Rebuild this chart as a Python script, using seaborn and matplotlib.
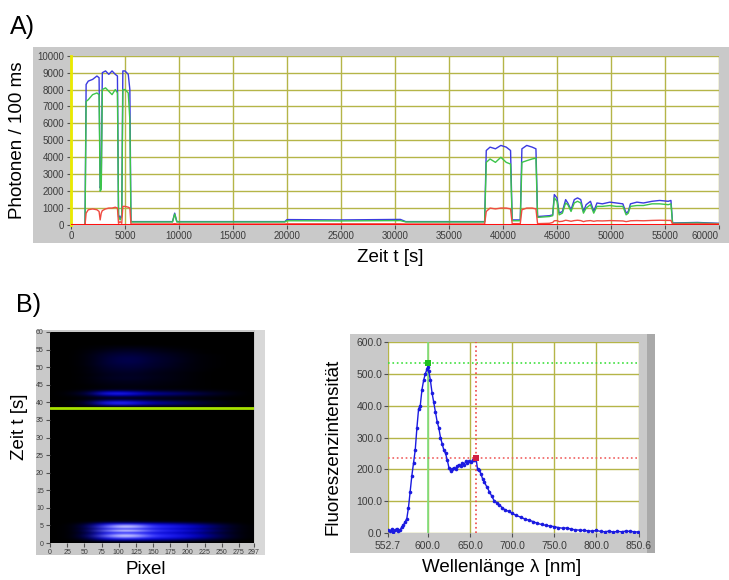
import matplotlib
matplotlib.use("Agg")
import matplotlib.pyplot as plt
import numpy as np
import pandas as pd
import seaborn as sns
from matplotlib.colors import LinearSegmentedColormap
from matplotlib.patches import Rectangle

W, H = 729, 580

# --- A) photon counts per 100 ms ---
time_ms = [0, 1300, 1400, 1600, 2000, 2400, 2600, 2700, 2800, 2900, 3200, 3500, 3800, 4100,
           4300, 4400, 4550, 4700, 4800, 5000, 5300, 5450, 5550, 7000, 9400, 9600, 9800,
           12000, 15000, 19800, 20000, 25000, 30500, 31000, 35000, 38300, 38450, 38800,
           39300, 39800, 40300, 40700, 40850, 41600, 41750, 42200, 42700, 43050, 43200,
           44300, 44600, 44750, 45000, 45200, 45500, 45800, 46000, 46300, 46600, 46900,
           47200, 47450, 47700, 48100, 48400, 48700, 49200, 49900, 50500, 51100, 51400,
           51600, 51800, 52400, 53000, 53800, 54500, 55300, 55550, 55700, 58000, 60000]
blue_counts = [0, 0, 8300, 8500, 8600, 8800, 8700, 2200, 2400, 9000, 9100, 8900, 9100, 8900,
               8800, 600, 400, 600, 9100, 9100, 8900, 8000, 200, 200, 200, 700, 200,
               200, 200, 200, 320, 300, 330, 200, 200, 200, 4400, 4600,
               4500, 4700, 4600, 4400, 300, 300, 4500, 4700, 4600, 4500, 500,
               550, 600, 1800, 1600, 700, 800, 1500, 1300, 900, 1500, 1600,
               1500, 800, 1200, 1400, 800, 1300, 1250, 1350, 1300, 1250, 700,
               800, 1250, 1350, 1300, 1400, 1450, 1400, 1450, 120, 150, 100]
green_counts = [0, 0, 7300, 7400, 7700, 7800, 7700, 2000, 2100, 8000, 8100, 7900, 7700, 8000,
                7800, 500, 300, 500, 8000, 8000, 7800, 6200, 180, 180, 180, 650, 180,
                180, 180, 180, 250, 240, 260, 180, 180, 180, 3700, 3900,
                3700, 4000, 3700, 3600, 250, 250, 3700, 3800, 3900, 3950, 450,
                500, 550, 1600, 1400, 600, 700, 1300, 1200, 800, 1300, 1400,
                1300, 700, 1000, 1200, 700, 1100, 1100, 1150, 1100, 1100, 600,
                700, 1100, 1150, 1150, 1250, 1250, 1200, 1250, 100, 120, 80]
red_counts = [0, 0, 700, 900, 950, 900, 800, 300, 700, 850, 950, 1000, 1000, 1050,
              1000, 100, 200, 100, 1100, 1100, 1050, 1000, 60, 60, 60, 80, 60,
              60, 60, 60, 70, 70, 70, 60, 60, 60, 800, 1000,
              950, 1000, 1000, 950, 80, 80, 900, 1000, 1000, 950, 80,
              100, 150, 250, 260, 200, 220, 280, 260, 220, 260, 280,
              260, 200, 240, 260, 220, 250, 240, 260, 250, 240, 200,
              220, 250, 260, 250, 270, 280, 270, 270, 60, 60, 60]
floor_time_ms = [0, 60000]
floor_counts = [25, 25]

# --- B) left: spectra image (time vs. pixel) ---
pixel_cols = [0, 25, 50, 75, 100, 125, 150, 175, 200, 225, 250, 275, 297]
heat_times = [0.5, 1.0, 1.5, 2.0, 2.5, 3.0, 3.5, 4.0, 4.5, 5.0, 5.5, 6.0,
              39.0, 39.5, 40.0, 40.5, 41.0, 41.5, 42.0, 42.5, 43.0, 43.5, 44.0,
              44.5, 45.0, 45.5, 46.0, 46.5, 47.0, 47.5, 48.0, 48.5, 49.0, 49.5, 50.0,
              50.5, 51.0, 51.5, 52.0, 52.5, 53.0, 53.5, 54.0, 54.5, 55.0, 55.5, 56.0]
heat_rows = [
    [0, 0, 0.03, 0.1, 0.14, 0.14, 0.12, 0.1, 0.08, 0.05, 0.03, 0.01, 0],
    [0, 0.01, 0.12, 0.4, 0.5, 0.48, 0.4, 0.35, 0.28, 0.2, 0.12, 0.05, 0],
    [0, 0.02, 0.2, 0.62, 0.8, 0.76, 0.62, 0.55, 0.45, 0.33, 0.2, 0.09, 0.01],
    [0, 0.02, 0.25, 0.78, 0.97, 0.93, 0.74, 0.66, 0.54, 0.4, 0.24, 0.11, 0.01],
    [0, 0.02, 0.22, 0.68, 0.86, 0.82, 0.66, 0.58, 0.47, 0.35, 0.21, 0.09, 0.01],
    [0, 0.02, 0.18, 0.56, 0.7, 0.67, 0.55, 0.48, 0.39, 0.29, 0.17, 0.08, 0.01],
    [0, 0.02, 0.26, 0.8, 1.0, 0.96, 0.75, 0.67, 0.55, 0.41, 0.25, 0.11, 0.01],
    [0, 0.02, 0.19, 0.58, 0.72, 0.69, 0.56, 0.49, 0.4, 0.3, 0.18, 0.08, 0.01],
    [0, 0.02, 0.24, 0.76, 0.96, 0.92, 0.72, 0.64, 0.52, 0.39, 0.23, 0.1, 0.01],
    [0, 0.02, 0.22, 0.7, 0.9, 0.86, 0.66, 0.58, 0.47, 0.35, 0.21, 0.09, 0.01],
    [0, 0.01, 0.13, 0.42, 0.55, 0.52, 0.42, 0.36, 0.29, 0.21, 0.12, 0.05, 0],
    [0, 0, 0.03, 0.1, 0.13, 0.13, 0.1, 0.09, 0.07, 0.05, 0.03, 0.01, 0],
    [0, 0, 0.04, 0.16, 0.2, 0.16, 0.1, 0.08, 0.06, 0.04, 0.02, 0.01, 0],
    [0, 0.02, 0.14, 0.5, 0.62, 0.48, 0.32, 0.26, 0.2, 0.13, 0.07, 0.03, 0],
    [0, 0.03, 0.16, 0.56, 0.68, 0.52, 0.35, 0.28, 0.21, 0.14, 0.08, 0.03, 0],
    [0, 0.01, 0.08, 0.28, 0.34, 0.27, 0.18, 0.14, 0.11, 0.07, 0.04, 0.01, 0],
    [0, 0, 0.03, 0.08, 0.1, 0.08, 0.06, 0.05, 0.04, 0.03, 0.01, 0, 0],
    [0, 0.01, 0.04, 0.12, 0.14, 0.12, 0.09, 0.08, 0.06, 0.04, 0.03, 0.01, 0],
    [0, 0.03, 0.12, 0.34, 0.4, 0.32, 0.23, 0.2, 0.16, 0.12, 0.07, 0.03, 0],
    [0, 0.05, 0.18, 0.56, 0.64, 0.48, 0.34, 0.29, 0.24, 0.17, 0.1, 0.05, 0],
    [0, 0.03, 0.12, 0.36, 0.4, 0.3, 0.22, 0.18, 0.15, 0.1, 0.06, 0.03, 0],
    [0, 0.01, 0.04, 0.1, 0.12, 0.1, 0.07, 0.06, 0.05, 0.03, 0.02, 0.01, 0],
    [0, 0, 0.01, 0.03, 0.04, 0.04, 0.03, 0.02, 0.02, 0.01, 0, 0, 0],
    [0, 0, 0.01, 0.03, 0.04, 0.04, 0.03, 0.02, 0.01, 0.01, 0, 0, 0],
    [0, 0, 0.01, 0.04, 0.05, 0.05, 0.04, 0.03, 0.02, 0.01, 0, 0, 0],
    [0, 0, 0.02, 0.05, 0.06, 0.06, 0.05, 0.03, 0.02, 0.01, 0, 0, 0],
    [0, 0, 0.02, 0.06, 0.07, 0.07, 0.05, 0.04, 0.02, 0.01, 0, 0, 0],
    [0, 0, 0.02, 0.07, 0.09, 0.09, 0.06, 0.05, 0.03, 0.01, 0, 0, 0],
    [0, 0, 0.03, 0.08, 0.1, 0.1, 0.07, 0.05, 0.03, 0.01, 0, 0, 0],
    [0, 0, 0.02, 0.07, 0.09, 0.09, 0.07, 0.05, 0.03, 0.01, 0, 0, 0],
    [0, 0, 0.02, 0.07, 0.09, 0.09, 0.06, 0.05, 0.03, 0.01, 0, 0, 0],
    [0, 0, 0.03, 0.08, 0.1, 0.1, 0.07, 0.05, 0.03, 0.01, 0, 0, 0],
    [0, 0, 0.03, 0.09, 0.12, 0.12, 0.08, 0.06, 0.04, 0.02, 0, 0, 0],
    [0, 0, 0.03, 0.1, 0.13, 0.13, 0.09, 0.07, 0.04, 0.02, 0, 0, 0],
    [0, 0, 0.03, 0.11, 0.15, 0.15, 0.11, 0.08, 0.05, 0.02, 0.01, 0, 0],
    [0, 0, 0.04, 0.12, 0.16, 0.16, 0.12, 0.09, 0.05, 0.02, 0.01, 0, 0],
    [0, 0, 0.04, 0.13, 0.17, 0.17, 0.12, 0.09, 0.05, 0.02, 0.01, 0, 0],
    [0, 0, 0.04, 0.13, 0.18, 0.18, 0.13, 0.1, 0.06, 0.02, 0.01, 0, 0],
    [0, 0, 0.04, 0.13, 0.18, 0.18, 0.13, 0.1, 0.06, 0.02, 0.01, 0, 0],
    [0, 0, 0.04, 0.13, 0.18, 0.18, 0.13, 0.1, 0.06, 0.02, 0.01, 0, 0],
    [0, 0, 0.04, 0.12, 0.17, 0.17, 0.12, 0.09, 0.05, 0.02, 0.01, 0, 0],
    [0, 0, 0.04, 0.11, 0.15, 0.15, 0.11, 0.08, 0.05, 0.02, 0.01, 0, 0],
    [0, 0, 0.03, 0.09, 0.13, 0.13, 0.09, 0.07, 0.04, 0.01, 0, 0, 0],
    [0, 0, 0.03, 0.07, 0.1, 0.1, 0.07, 0.05, 0.03, 0.01, 0, 0, 0],
    [0, 0, 0.02, 0.05, 0.08, 0.08, 0.06, 0.04, 0.02, 0.01, 0, 0, 0],
    [0, 0, 0.01, 0.03, 0.05, 0.05, 0.04, 0.02, 0.01, 0, 0, 0, 0],
    [0, 0, 0.01, 0.02, 0.03, 0.03, 0.02, 0.01, 0.01, 0, 0, 0, 0],
]
cursor_time = 38.5

# --- B) right: fluorescence spectrum at the cursor time ---
wavelength = [553, 555, 557, 559, 561, 563, 565, 567, 569, 571, 573, 575, 577, 579, 581, 583,
              585, 587, 589, 591, 593, 595, 597, 599, 600, 601, 603, 605, 607, 609, 611, 613,
              615, 617, 619, 621, 623, 625, 627, 629, 631, 633, 635, 637, 639, 641, 643, 645,
              647, 649, 651, 653, 655, 657, 659, 661, 663, 665, 667, 670, 673, 676, 679, 682,
              685, 688, 692, 696, 700, 705, 710, 715, 720, 725, 730, 735, 740, 745, 750, 755,
              760, 765, 770, 775, 780, 785, 790, 795, 800, 805, 810, 815, 820, 825, 830, 835,
              840, 845, 850]
intensity = [10, 5, 12, 3, 8, 14, 6, 10, 18, 25, 35, 45, 80, 130, 180, 220,
             260, 330, 390, 400, 450, 480, 500, 515, 522, 510, 480, 440, 410, 380, 350, 330,
             300, 280, 260, 250, 230, 205, 195, 200, 205, 200, 210, 215, 210, 220, 215, 225,
             220, 225, 222, 228, 230, 238, 200, 198, 185, 170, 160, 145, 130, 115, 100, 95,
             88, 80, 72, 68, 62, 55, 50, 44, 40, 36, 30, 27, 24, 22, 20, 17,
             15, 16, 12, 10, 9, 8, 7, 6, 8, 5, 4, 6, 3, 5, 4, 6,
             5, 4, 3]
green_cursor = [600.0, 535.0]
red_cursor = [657.0, 237.0]

GRID = "#b5b548"
FRAME = "#c9c9c9"
TICK = "#3c3c3c"

sns.set_theme(style="white")
plt.rcParams["font.family"] = ["Liberation Sans", "DejaVu Sans"]
plt.rcParams["text.color"] = "black"


def axes_px(fig, left, top, right, bottom):
    return fig.add_axes([left / W, 1 - bottom / H, (right - left) / W, (bottom - top) / H])


def frame_px(fig, left, top, right, bottom, color=FRAME):
    fig.add_artist(Rectangle((left / W, 1 - bottom / H), (right - left) / W, (bottom - top) / H,
                             transform=fig.transFigure, facecolor=color, edgecolor="none", zorder=-1))


def text_px(fig, x, y, s, size, **kw):
    fig.text(x / W, 1 - y / H, s, fontsize=size, ha=kw.pop("ha", "center"), va="center",
             color="black", **kw)


def labview_style(ax, labelsize):
    ax.set_facecolor("white")
    for side in ["top", "right", "bottom", "left"]:
        ax.spines[side].set_visible(False)
    ax.tick_params(axis="both", which="both", direction="out", length=3, width=0.8,
                   color="#505050", labelcolor=TICK, labelsize=labelsize, pad=1.5,
                   bottom=True, left=True)
    ax.set_xlabel("")
    ax.set_ylabel("")


fig = plt.figure(figsize=(W / 100, H / 100), dpi=100)

# ---------------- A ----------------
frame_px(fig, 33, 47, 729, 243)
ax_a = axes_px(fig, 71, 55.7, 719, 225)
df_a = pd.DataFrame({
    "t": time_ms * 3,
    "counts": blue_counts + green_counts + red_counts,
    "channel": ["blue"] * len(time_ms) + ["green"] * len(time_ms) + ["red"] * len(time_ms),
})
sns.lineplot(data=df_a, x="t", y="counts", hue="channel",
             palette={"blue": "#3a3ae0", "green": "#3cc44a", "red": "#f04a40"},
             estimator=None, sort=False, linewidth=1.0, legend=False, ax=ax_a, zorder=3)
sns.lineplot(x=floor_time_ms, y=floor_counts, color="#ff1010", linewidth=2.2, ax=ax_a, zorder=4)
ax_a.set_xlim(0, 60000)
ax_a.set_ylim(0, 10000)
ax_a.set_xticks(np.arange(0, 60001, 5000))
ax_a.set_yticks(np.arange(0, 10001, 1000))
labview_style(ax_a, 7)
ax_a.grid(True, color=GRID, linewidth=1.0)
ax_a.spines["left"].set_visible(True)
ax_a.spines["left"].set_color("#eaea00")
ax_a.spines["left"].set_linewidth(2)
ax_a.tick_params(axis="y", pad=2)
ax_a.tick_params(axis="x", pad=1)
ax_a.get_xticklabels()[-1].set_horizontalalignment("right")

text_px(fig, 10, 27, "A)", 18, ha="left")
text_px(fig, 18, 140, "Photonen / 100 ms", 13.5, rotation=90)
text_px(fig, 390, 258, "Zeit t [s]", 13.5)

# ---------------- B left ----------------
frame_px(fig, 36, 330, 265, 555)
frame_px(fig, 255, 330, 265, 555, "#d8d8d8")
ax_img = axes_px(fig, 50, 332, 254, 543)
n_rows = 121
img = np.zeros((n_rows, len(pixel_cols)))
for t, row in zip(heat_times, heat_rows):
    img[int(round(t * 2))] = row
cmap = LinearSegmentedColormap.from_list(
    "labview_blue",
    [(0, "black"), (0.15, "#00003a"), (0.4, "#0000c0"), (0.7, "#2828ff"), (0.88, "#a0a0ff"), (1, "white")])
ax_img.imshow(img, origin="lower", aspect="auto", cmap=cmap, vmin=0, vmax=1,
              extent=[0, 297, -0.25, 60.25], interpolation="bicubic")
sns.lineplot(x=[0, 297], y=[cursor_time, cursor_time], color="#a6e000", linewidth=2, ax=ax_img)
ax_img.set_xlim(0, 297)
ax_img.set_ylim(0, 60)
ax_img.set_xticks(pixel_cols)
ax_img.set_yticks(np.arange(0, 61, 5))
labview_style(ax_img, 5)
ax_img.grid(False)

text_px(fig, 16, 305, "B)", 18, ha="left")
text_px(fig, 19, 427, "Zeit t [s]", 13.5, rotation=90)
text_px(fig, 146, 570, "Pixel", 13.5)

# ---------------- B right ----------------
frame_px(fig, 350, 334, 655, 553)
frame_px(fig, 647, 334, 655, 553, "#a9a9a9")
ax_sp = axes_px(fig, 388, 342, 639, 533)
ax_sp.grid(True, color=GRID, linewidth=1.0)
ax_sp.axvline(green_cursor[0], color="#7ee07e", linewidth=1.2, zorder=2)
ax_sp.axhline(green_cursor[1], color="#3ee03e", linewidth=1.2, linestyle=":", zorder=2)
ax_sp.axvline(red_cursor[0], color="#f04848", linewidth=1.2, linestyle=":", zorder=2)
ax_sp.axhline(red_cursor[1], color="#f06060", linewidth=1.2, linestyle=":", zorder=2)
sns.lineplot(x=wavelength, y=intensity, color="#1a1ae0", linewidth=1.0, marker="o",
             markersize=2.6, markeredgewidth=0, ax=ax_sp, zorder=3)
sns.scatterplot(x=[green_cursor[0]], y=[green_cursor[1]], color="#20c020", marker="s", s=14,
                linewidth=0, ax=ax_sp, zorder=4)
sns.scatterplot(x=[red_cursor[0]], y=[red_cursor[1]], color="#d02040", marker="s", s=14,
                linewidth=0, ax=ax_sp, zorder=4)
ax_sp.set_xlim(552.7, 850.6)
ax_sp.set_ylim(0, 600)
xt = [552.7, 600, 650, 700, 750, 800, 850.6]
ax_sp.set_xticks(xt)
ax_sp.set_xticklabels([f"{v:.1f}" for v in xt])
yt = np.arange(0, 601, 100)
ax_sp.set_yticks(yt)
ax_sp.set_yticklabels([f"{v:.1f}" for v in yt])
labview_style(ax_sp, 7.5)
ax_sp.tick_params(axis="x", pad=2.5)
ax_sp.tick_params(axis="y", pad=1)

text_px(fig, 333, 447, "Fluoreszenzintensität", 13.5, rotation=90)
text_px(fig, 502, 567, "Wellenlänge λ [nm]", 13.5)

fig.savefig("out.png", dpi=100)
